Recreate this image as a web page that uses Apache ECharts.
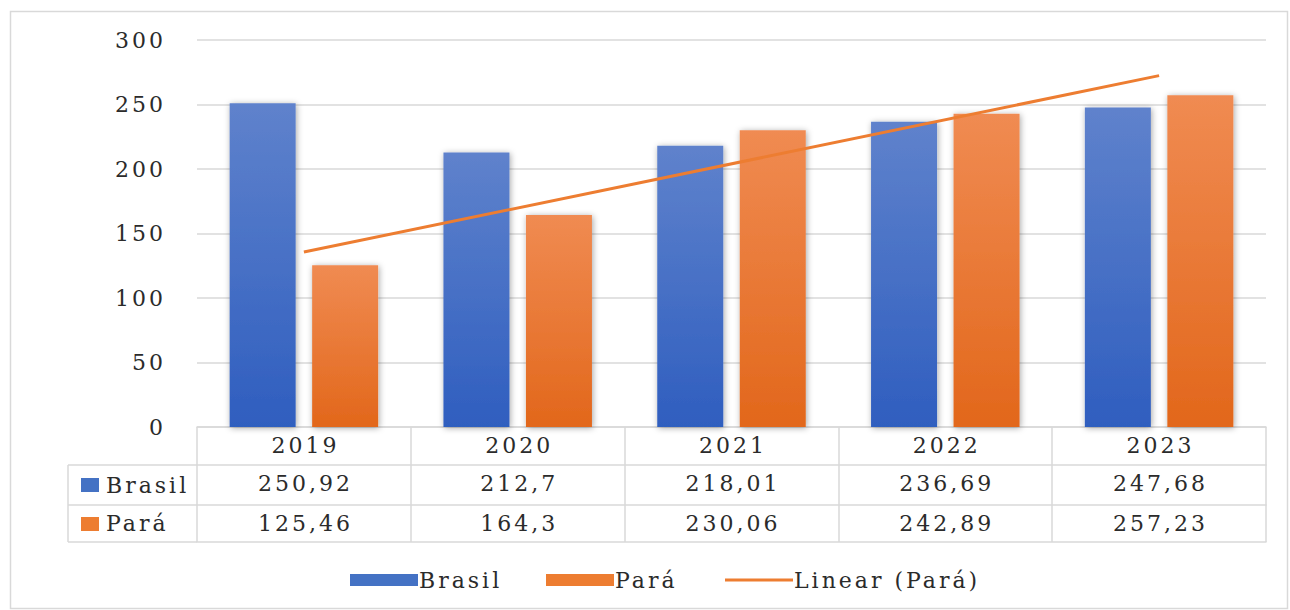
<!DOCTYPE html>
<html>
<head>
<meta charset="utf-8">
<script src="https://cdn.jsdelivr.net/npm/echarts@6/dist/echarts.min.js"></script>
<style>
html,body{margin:0;padding:0;background:#fff;}
#chart{width:1290px;height:610px;}
#chart text{letter-spacing:3px;}
</style>
</head>
<body>
<div id="chart"></div>
<script>
const categories = ['2019', '2020', '2021', '2022', '2023'];
const brasil = [250.92, 212.7, 218.01, 236.69, 247.68];
const para = [125.46, 164.3, 230.06, 242.89, 257.23];
// Linear trendline endpoints
const trendCats = ['2019', '2023'];
const trendValues = [135.6, 272.4];
const yTicks = [0, 50, 100, 150, 200, 250, 300];

const FONT = '"DejaVu Serif", "Liberation Serif", serif';
const FS = 22;
const TXT = '#2b2b2b';
const LINE = '#d9d9d9';

const gridLeft = 197, gridRight = 24, gridTop = 40, axisY = 427;
const rowH = [38, 40, 37];
const labelColLeft = 68;

const fmt = v => String(v).replace('.', ',');

const chart = echarts.init(document.getElementById('chart'), null, {renderer: 'svg'});

function rowAxis(offset, labels, tickLen, showTick) {
  return {
    type: 'category',
    gridIndex: 0,
    position: 'bottom',
    offset: offset,
    data: labels,
    boundaryGap: true,
    axisLine: {show: true, lineStyle: {color: LINE, width: 1.5}},
    axisTick: {show: showTick, length: tickLen, alignWithLabel: false, lineStyle: {color: LINE, width: 1.5}},
    axisLabel: {show: true, interval: 0, margin: 7, fontFamily: FONT, fontSize: FS, color: TXT, padding: [0, 0, 0, 3]},
    splitLine: {show: false}
  };
}

const blueGrad = new echarts.graphic.LinearGradient(0, 0, 0, 1, [
  {offset: 0, color: '#5f82cc'}, {offset: 1, color: '#2f5ebf'}
]);
const orangeGrad = new echarts.graphic.LinearGradient(0, 0, 0, 1, [
  {offset: 0, color: '#f08b52'}, {offset: 1, color: '#e2671b'}
]);

const r1 = axisY + rowH[0];
const r2 = r1 + rowH[1];
const r3 = r2 + rowH[2];

function legendAt(left, item) {
  return {
    left: left, top: 564,
    itemWidth: 68, itemHeight: 12,
    selectedMode: false,
    textStyle: {fontFamily: FONT, fontSize: FS, color: TXT, padding: [0, 0, 0, -4]},
    data: [item]
  };
}

const option = {
  animation: false,
  backgroundColor: '#ffffff',
  grid: {left: gridLeft, right: gridRight, top: gridTop, bottom: 610 - axisY, containLabel: false},
  xAxis: [
    rowAxis(0, categories, rowH[0], true),
    rowAxis(rowH[0], brasil.map(fmt), rowH[1], true),
    rowAxis(rowH[0] + rowH[1], para.map(fmt), rowH[2], true),
    Object.assign(rowAxis(rowH[0] + rowH[1] + rowH[2], categories.map(() => ''), 0, false), {axisLabel: {show: false}})
  ],
  yAxis: {
    type: 'value',
    min: 0, max: 300, interval: 50,
    axisLine: {show: false},
    axisTick: {show: false},
    axisLabel: {margin: 31, fontFamily: FONT, fontSize: FS, color: TXT,
      formatter: v => yTicks.includes(v) ? String(v) : ''},
    splitLine: {show: true, lineStyle: {color: LINE, width: 1.5}}
  },
  legend: [
    legendAt(345, {name: 'Brasil', icon: 'rect', itemStyle: {color: '#4472c4'}}),
    legendAt(541, {name: 'Pará', icon: 'rect', itemStyle: {color: '#ed7d31'}}),
    legendAt(720, {name: 'Linear (Pará)', icon: 'path://M0,0 H68 V3 H0 Z', itemStyle: {color: '#ed7d31'}})
  ],
  series: [
    {
      name: 'Brasil', type: 'bar', xAxisIndex: 0, data: brasil,
      barWidth: 66, barGap: '25%',
      itemStyle: {color: blueGrad, shadowBlur: 6, shadowColor: 'rgba(0,0,0,0.35)', shadowOffsetX: 1, shadowOffsetY: 1}
    },
    {
      name: 'Pará', type: 'bar', xAxisIndex: 0, data: para,
      barWidth: 66, barGap: '25%',
      itemStyle: {color: orangeGrad, shadowBlur: 6, shadowColor: 'rgba(0,0,0,0.35)', shadowOffsetX: 1, shadowOffsetY: 1}
    },
    {
      name: 'Linear (Pará)', type: 'line', xAxisIndex: 0,
      data: trendCats.map((c, i) => [c, trendValues[i]]),
      symbol: 'none', z: 5,
      lineStyle: {color: '#ed7d31', width: 3},
      itemStyle: {color: '#ed7d31'}
    }
  ],
  graphic: [
    {type: 'rect', silent: true, z: -10, shape: {x: 10.5, y: 11.5, width: 1277, height: 597},
      style: {fill: 'none', stroke: LINE, lineWidth: 1.5}},
    {type: 'line', silent: true, shape: {x1: labelColLeft, y1: r1, x2: gridLeft, y2: r1}, style: {stroke: LINE, lineWidth: 1.5}},
    {type: 'line', silent: true, shape: {x1: labelColLeft, y1: r2, x2: gridLeft, y2: r2}, style: {stroke: LINE, lineWidth: 1.5}},
    {type: 'line', silent: true, shape: {x1: labelColLeft, y1: r3, x2: gridLeft, y2: r3}, style: {stroke: LINE, lineWidth: 1.5}},
    {type: 'line', silent: true, shape: {x1: labelColLeft, y1: r1, x2: labelColLeft, y2: r3}, style: {stroke: LINE, lineWidth: 1.5}},
    {type: 'rect', silent: true, shape: {x: 81, y: r1 + 13, width: 18, height: 14}, style: {fill: '#4472c4'}},
    {type: 'text', silent: true, x: 106, y: r1 + rowH[1] / 2, style: {text: 'Brasil', font: FS + 'px ' + FONT, fill: TXT, verticalAlign: 'middle'}},
    {type: 'rect', silent: true, shape: {x: 81, y: r2 + 12, width: 18, height: 14}, style: {fill: '#ed7d31'}},
    {type: 'text', silent: true, x: 106, y: r2 + rowH[2] / 2, style: {text: 'Pará', font: FS + 'px ' + FONT, fill: TXT, verticalAlign: 'middle'}}
  ]
};

chart.setOption(option);
</script>
</body>
</html>
